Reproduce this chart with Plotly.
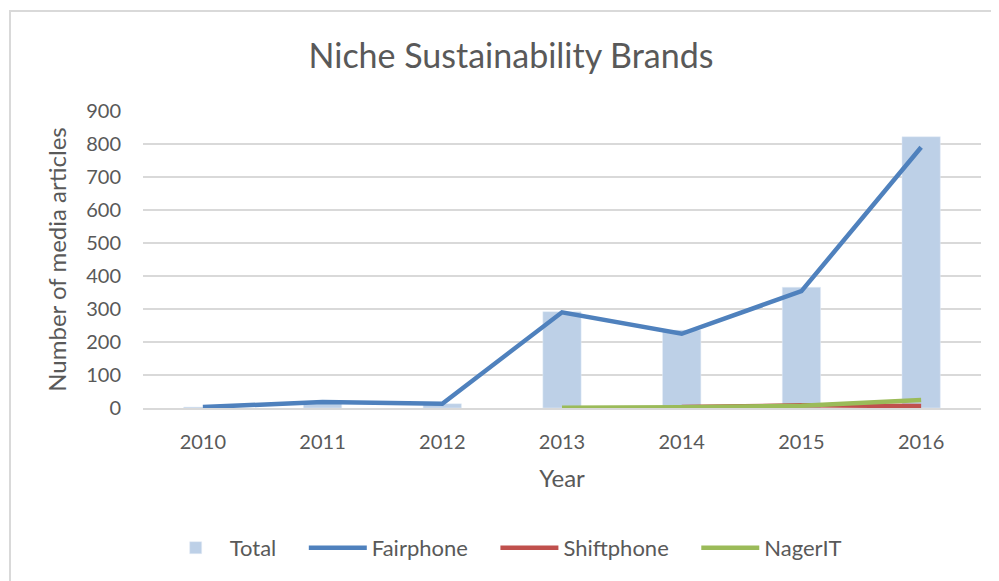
import plotly.graph_objects as go

years = ["2010", "2011", "2012", "2013", "2014", "2015", "2016"]
total = [3, 19, 13, 292, 236, 366, 822]
fairphone = [3, 18, 13, 290, 225, 354, 790]
shiftphone = [None, None, None, None, 3, 8, 6]
nagerit = [None, None, None, 1, 2, 7, 24]
y_ticks = [0, 100, 200, 300, 400, 500, 600, 700, 800, 900]

FONT = "Lato"
GRAY = "#595959"
PAD = "\u00a0" * 4  # extra spacing between legend entries

fig = go.Figure()
fig.add_trace(go.Bar(x=years, y=total, name="Total" + PAD, marker_color="#BDD0E7"))
fig.add_trace(go.Scatter(x=years, y=fairphone, name="Fairphone" + PAD, mode="lines",
                         line=dict(color="#4F81BD", width=4.5)))
fig.add_trace(go.Scatter(x=years, y=shiftphone, name="Shiftphone" + PAD, mode="lines",
                         line=dict(color="#C0504D", width=4.5)))
fig.add_trace(go.Scatter(x=years, y=nagerit, name="NagerIT", mode="lines",
                         line=dict(color="#9BBB59", width=4.5)))

fig.update_layout(
    width=999, height=581,
    margin=dict(l=135, r=26, t=103, b=181, autoexpand=False),
    paper_bgcolor="white", plot_bgcolor="white",
    font=dict(family=FONT, color=GRAY, size=20),
    bargap=0.68,
    title=dict(text="Niche Sustainability Brands", x=0.5035, xanchor="center",
               y=0.918, yanchor="middle", font=dict(size=34, color=GRAY, family=FONT)),
    legend=dict(orientation="h", x=0.431, xanchor="center", y=-0.471, yanchor="middle",
                font=dict(size=22, color=GRAY), traceorder="normal", itemwidth=58),
    shapes=[
        dict(type="line", xref="paper", yref="paper", x0=-0.1587, x1=-0.1587, y0=-1, y1=1.34,
             line=dict(color="#D9D9D9", width=2)),
        dict(type="line", xref="paper", yref="paper", x0=-0.1587, x1=1.1, y0=1.3367, y1=1.3367,
             line=dict(color="#D9D9D9", width=2)),
    ],
)
fig.update_xaxes(
    type="category", automargin=False, showgrid=False, showline=True,
    linecolor="#D9D9D9", linewidth=1.5,
    ticks="outside", ticklen=15, tickcolor="rgba(0,0,0,0)",
    tickfont=dict(size=20, color=GRAY),
    title=dict(text="Year", font=dict(size=24, color=GRAY), standoff=18),
)
fig.update_yaxes(
    range=[0, 900], tickvals=y_ticks, automargin=False, showgrid=True,
    gridcolor="#D9D9D9", gridwidth=1.5,
    zeroline=False, showline=False, ticks="outside", ticklen=17, tickcolor="rgba(0,0,0,0)",
    tickfont=dict(size=20, color=GRAY),
    title=dict(text="Number of media articles", font=dict(size=24, color=GRAY), standoff=12),
)

fig.write_html("out.html")
